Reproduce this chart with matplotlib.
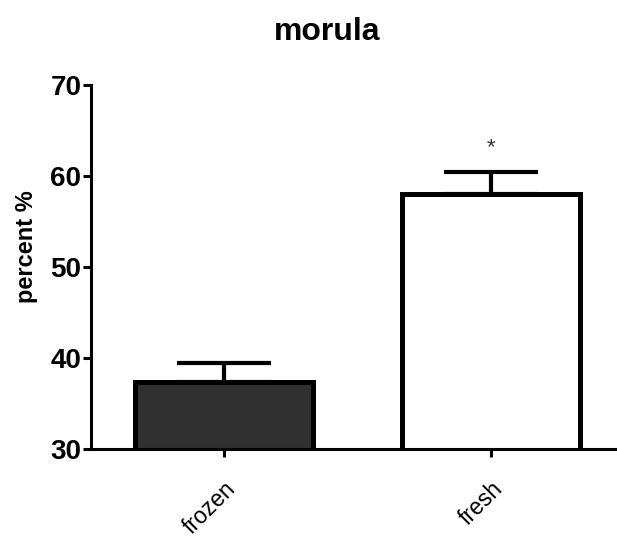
import matplotlib
matplotlib.use("Agg")
import matplotlib.pyplot as plt
import matplotlib.transforms as mtransforms

categories = ["frozen", "fresh"]
means = [37.4, 58.0]
errors = [2.0, 2.4]
colors = ["#303030", "#ffffff"]
yticks = [30, 40, 50, 60, 70]
title = "morula"
ylabel = "percent %"
sig_marks = ["", "*"]

plt.rcParams['font.family'] = ['Liberation Sans', 'DejaVu Sans']

fig = plt.figure(figsize=(6.17, 5.40), dpi=100)
ax = fig.add_axes([91/617, 91/540, 526/617, 364/540])

x = list(range(len(categories)))
ax.bar(x, means, width=0.67, color=colors, edgecolor="black", linewidth=3.6, zorder=2)
ax.errorbar(x, means, yerr=[[0]*len(errors), errors], fmt="none", ecolor="black",
            elinewidth=3.0, capsize=34, capthick=3.0, zorder=1)
for xi, m, e, s in zip(x, means, errors, sig_marks):
    if s:
        ax.text(xi, m + e + 2.7, s, ha="center", va="center", fontsize=16, color="#333333")

ax.set_xlim(-0.498, 1.472)
ax.set_ylim(30, 70)
ax.set_yticks(yticks)
ax.set_yticklabels([str(t) for t in yticks], fontsize=20, fontweight="bold")
ax.set_xticks(x)
ax.set_xticklabels(categories, fontsize=16.5, rotation=45, ha="right", va="top",
                   rotation_mode="anchor")
offset = mtransforms.ScaledTranslation(6/100, 0, fig.dpi_scale_trans)
for lbl in ax.get_xticklabels():
    lbl.set_transform(lbl.get_transform() + offset)

for side in ["top", "right"]:
    ax.spines[side].set_visible(False)
for side in ["left", "bottom"]:
    ax.spines[side].set_linewidth(2.2)
ax.tick_params(axis="both", width=2.2, length=6, color="black")
ax.tick_params(axis="y", pad=1)
ax.tick_params(axis="x", pad=14)

fig.text(327/617, 1 - 40/540, title, ha="center", va="baseline", fontsize=23, fontweight="bold")
fig.text(26/617, 1 - 247/540, ylabel, ha="center", va="center", rotation=90,
         fontsize=17, fontweight="bold")

fig.savefig("out.png", dpi=100)
